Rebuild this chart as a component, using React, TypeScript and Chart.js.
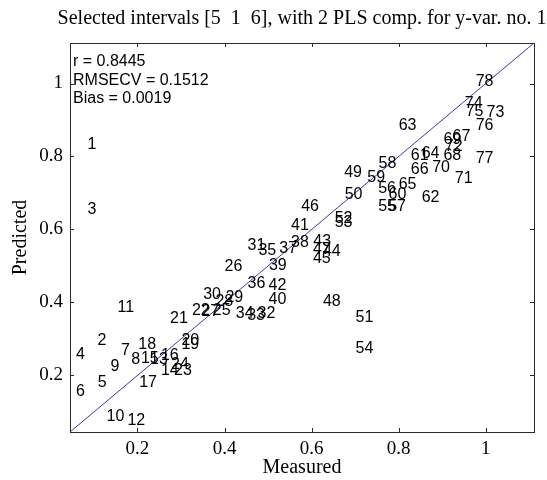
import React, { useEffect, useRef } from "react";
import { Chart, registerables } from "chart.js";

Chart.register(...registerables);

// Sample identifiers, measured reference values and cross-validated predictions
const sampleIds = [
  "1", "2", "3", "4", "5", "6", "7", "8", "9", "10",
  "11", "12", "13", "14", "15", "16", "17", "18", "19", "20",
  "21", "22", "23", "24", "25", "26", "27", "28", "29", "30",
  "31", "32", "33", "34", "35", "36", "37", "38", "39", "40",
  "41", "42", "43", "44", "45", "46", "47", "48", "49", "50",
  "51", "52", "53", "54", "55", "56", "57", "58", "59", "60",
  "61", "62", "63", "64", "65", "66", "67", "68", "69", "70",
  "71", "72", "73", "74", "75", "76", "77", "78",
];

const measured = [
  0.085, 0.108, 0.085, 0.059, 0.109, 0.059, 0.162, 0.186, 0.138, 0.129,
  0.154, 0.177, 0.229, 0.254, 0.208, 0.254, 0.204, 0.202, 0.301, 0.301,
  0.275, 0.325, 0.284, 0.277, 0.373, 0.400, 0.347, 0.379, 0.402, 0.351,
  0.453, 0.476, 0.452, 0.426, 0.478, 0.453, 0.526, 0.553, 0.502, 0.501,
  0.553, 0.501, 0.604, 0.626, 0.603, 0.576, 0.603, 0.626, 0.675, 0.676,
  0.701, 0.653, 0.653, 0.701, 0.753, 0.753, 0.776, 0.754, 0.728, 0.777,
  0.828, 0.853, 0.800, 0.853, 0.800, 0.828, 0.924, 0.903, 0.903, 0.877,
  0.929, 0.906, 1.002, 0.952, 0.954, 0.977, 0.977, 0.977,
];

const predicted = [
  0.837, 0.300, 0.659, 0.262, 0.184, 0.159, 0.271, 0.246, 0.229, 0.092,
  0.389, 0.079, 0.248, 0.216, 0.250, 0.257, 0.184, 0.287, 0.287, 0.300,
  0.360, 0.381, 0.218, 0.232, 0.381, 0.503, 0.378, 0.405, 0.417, 0.426,
  0.560, 0.372, 0.367, 0.372, 0.545, 0.454, 0.552, 0.568, 0.506, 0.412,
  0.613, 0.449, 0.571, 0.542, 0.524, 0.665, 0.548, 0.405, 0.760, 0.699,
  0.362, 0.633, 0.622, 0.276, 0.667, 0.715, 0.667, 0.784, 0.745, 0.699,
  0.807, 0.690, 0.889, 0.811, 0.727, 0.768, 0.857, 0.807, 0.850, 0.773,
  0.743, 0.831, 0.925, 0.948, 0.928, 0.889, 0.797, 1.010,
];

const tickValues = [0.2, 0.4, 0.6, 0.8, 1];
const tickLabels = ["0.2", "0.4", "0.6", "0.8", "1"];

// Both axes share the same range; the reference line runs y = x across it
const axisMin = 0.045;
const axisMax = 1.111;

const statLines = ["r = 0.8445", "RMSECV = 0.1512", "Bias = 0.0019"];
const titleText = "Selected intervals [5  1  6], with 2 PLS comp. for y-var. no. 1";
const xTitle = "Measured";
const yTitle = "Predicted";

const SERIF = '"Liberation Serif", "Times New Roman", Times, serif';
const SANS = '"Liberation Sans", Arial, Helvetica, sans-serif';
const LABEL_SIZE = 16;

const frameAndTicks = {
  id: "frameAndTicks",
  afterDraw(chart: any) {
    const { ctx, chartArea } = chart;
    const { left, right, top, bottom } = chartArea;
    const xs = chart.scales.x;
    const ys = chart.scales.y;
    ctx.save();
    ctx.strokeStyle = "#2a2a2a";
    ctx.lineWidth = 1;
    ctx.strokeRect(Math.round(left) + 0.5, Math.round(top) + 0.5, Math.round(right - left), Math.round(bottom - top));
    const len = 4;
    ctx.beginPath();
    for (const v of tickValues) {
      const px = Math.round(xs.getPixelForValue(v)) + 0.5;
      ctx.moveTo(px, bottom);
      ctx.lineTo(px, bottom - len);
      ctx.moveTo(px, top);
      ctx.lineTo(px, top + len);
      const py = Math.round(ys.getPixelForValue(v)) + 0.5;
      ctx.moveTo(left, py);
      ctx.lineTo(left + len, py);
      ctx.moveTo(right, py);
      ctx.lineTo(right - len, py);
    }
    ctx.stroke();

    // title centred over the axes box
    ctx.fillStyle = "#000";
    ctx.font = `20px ${SERIF}`;
    ctx.textAlign = "center";
    ctx.textBaseline = "middle";
    ctx.fillText(titleText, (left + right) / 2, 18.5);
    ctx.restore();
  },
};

const sampleLabels = {
  id: "sampleLabels",
  afterDatasetsDraw(chart: any) {
    const { ctx, chartArea } = chart;
    const meta = chart.getDatasetMeta(0);
    ctx.save();
    ctx.fillStyle = "#000";
    ctx.font = `${LABEL_SIZE}px ${SANS}`;
    ctx.textAlign = "left";
    ctx.textBaseline = "alphabetic";
    const off = LABEL_SIZE * 0.358;
    meta.data.forEach((pt: any, i: number) => {
      ctx.fillText(sampleIds[i], pt.x, pt.y + off);
    });
    // statistics block in the upper-left corner of the axes
    statLines.forEach((s, i) => {
      ctx.fillText(s, chartArea.left + 3, chartArea.top + 17.7 + i * 18.5 + off);
    });
    ctx.restore();
  },
};

export default function App() {
  const canvasRef = useRef<HTMLCanvasElement | null>(null);

  useEffect(() => {
    const canvas = canvasRef.current;
    if (!canvas) return;
    const points = measured.map((m, i) => ({ x: m, y: predicted[i] }));
    const tickCallback = (value: any) => {
      const i = tickValues.findIndex((t) => Math.abs(t - value) < 1e-9);
      return i >= 0 ? tickLabels[i] : "";
    };
    const setTicks = (scale: any) => {
      scale.ticks = tickValues.map((v) => ({ value: v }));
    };
    const chart = new Chart(canvas, {
      type: "scatter",
      data: {
        datasets: [
          {
            data: points,
            pointRadius: 0,
            pointHoverRadius: 0,
            showLine: false,
          } as any,
          {
            type: "line",
            data: [
              { x: axisMin, y: axisMin },
              { x: axisMax, y: axisMax },
            ],
            borderColor: "#3a3ab4",
            borderWidth: 1,
            pointRadius: 0,
            showLine: true,
            fill: false,
            tension: 0,
          } as any,
        ],
      },
      options: {
        animation: false,
        responsive: false,
        maintainAspectRatio: false,
        devicePixelRatio: 1,
        layout: { padding: { left: 0, right: 13, top: 43, bottom: 0 } },
        plugins: {
          legend: { display: false },
          tooltip: { enabled: false },
          title: { display: false },
        },
        scales: {
          x: {
            type: "linear",
            min: axisMin,
            max: axisMax,
            grid: { display: false, drawTicks: false, tickLength: 0 },
            border: { display: false },
            afterBuildTicks: setTicks,
            afterFit: (s: any) => {
              s.height = 48;
            },
            ticks: {
              callback: tickCallback,
              color: "#000",
              padding: 6,
              maxRotation: 0,
              autoSkip: false,
              font: { family: SERIF, size: 19 },
            },
            title: {
              display: true,
              text: xTitle,
              color: "#000",
              font: { family: SERIF, size: 20 },
              padding: { top: 0, bottom: 0 },
            },
          },
          y: {
            type: "linear",
            min: axisMin,
            max: axisMax,
            grid: { display: false, drawTicks: false, tickLength: 0 },
            border: { display: false },
            afterBuildTicks: setTicks,
            afterFit: (s: any) => {
              s.width = 70;
            },
            ticks: {
              callback: tickCallback,
              color: "#000",
              padding: 7,
              autoSkip: false,
              font: { family: SERIF, size: 19 },
            },
            title: {
              display: true,
              text: yTitle,
              color: "#000",
              font: { family: SERIF, size: 20 },
              padding: { top: 9, bottom: 0 },
            },
          },
        },
      },
      plugins: [frameAndTicks, sampleLabels],
    });
    return () => chart.destroy();
  }, []);

  return (
    <div
      style={{
        position: "fixed",
        left: 0,
        top: 0,
        width: 547,
        height: 480,
        background: "#fff",
      }}
    >
      <canvas ref={canvasRef} width={547} height={480} style={{ display: "block" }} />
    </div>
  );
}
